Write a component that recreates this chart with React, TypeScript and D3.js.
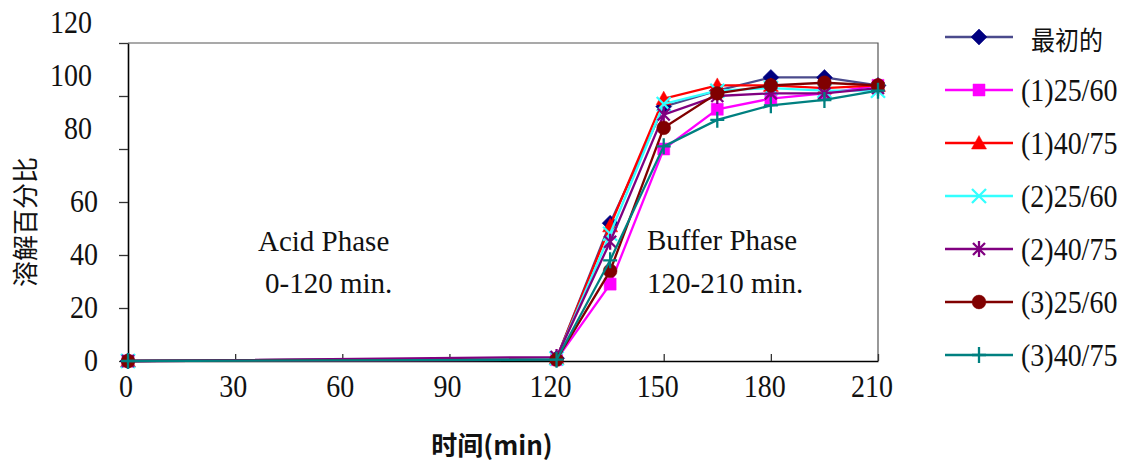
import React, { useEffect, useRef } from "react";
import * as d3 from "d3";

// sampling times (min)
const times = [0, 120, 135, 150, 165, 180, 195, 210];

// dissolution percentages per formulation
const initial = [0, 1, 52, 96, 102, 107, 107, 104];
const f1_2560 = [0, 0.5, 29, 80, 95, 99, 101, 104];
const f1_4075 = [0, 1, 51, 99, 104, 104, 103, 104];
const f2_2560 = [0, 1, 48, 97, 102, 103, 102, 102];
const f2_4075 = [0, 1.5, 45, 93, 100, 101, 101, 103];
const f3_2560 = [0, 0.5, 34, 88, 101, 104, 105, 104];
const f3_4075 = [0, 0.5, 38, 81, 91, 96.5, 98.5, 102];

const seriesNames = ["最初的", "(1)25/60", "(1)40/75", "(2)25/60", "(2)40/75", "(3)25/60", "(3)40/75"];
const seriesValues = [initial, f1_2560, f1_4075, f2_2560, f2_4075, f3_2560, f3_4075];

const xTicks = [0, 30, 60, 90, 120, 150, 180, 210];
const yTicks = [0, 20, 40, 60, 80, 100, 120];

const styles = [
	{ line: "#4a4a8c", color: "#000080", shape: "diamond" },
	{ line: "#ff00ff", color: "#ff00ff", shape: "square" },
	{ line: "#ff0000", color: "#ff0000", shape: "triangle" },
	{ line: "#33ffff", color: "#33ffff", shape: "x" },
	{ line: "#800080", color: "#800080", shape: "star" },
	{ line: "#800000", color: "#800000", shape: "circle" },
	{ line: "#008080", color: "#008080", shape: "plus" }
];

const markerPath = (shape: string) => {
	switch (shape) {
		case "diamond":
			return "M0,-8L8,0L0,8L-8,0Z";
		case "square":
			return "M-6,-6H6V6H-6Z";
		case "triangle":
			return "M0,-7.5L7.5,6L-7.5,6Z";
		case "x":
			return "M-7,-7L7,7M-7,7L7,-7";
		case "star":
			return "M-6,-6L6,6M-6,6L6,-6M0,-8L0,8";
		case "plus":
			return "M-7,0L7,0M0,-8L0,8";
		default:
			return d3.symbol().type(d3.symbolCircle).size(150)() as string;
	}
};
const filled = (shape: string) => ["diamond", "square", "triangle", "circle"].includes(shape);

const App = () => {
	const ref = useRef<SVGSVGElement>(null);

	useEffect(() => {
		document.body.style.margin = "0";
		const svg = d3.select(ref.current);
		svg.selectAll("*").remove();

		const left = 128, right = 878, top = 43, bottom = 361;

		const x = d3.scaleLinear().domain([0, 210]).range([left, right]);
		const y = d3.scaleLinear().domain([0, 120]).range([bottom, top]);

		svg.append("rect").attr("width", 1135).attr("height", 462).attr("fill", "#fff");

		// frame (top & right)
		svg.append("path")
			.attr("d", `M${left},${top}H${right}V${bottom}`)
			.attr("fill", "none")
			.attr("stroke", "#555")
			.attr("stroke-width", 1.2);

		// y axis
		const yAxis = d3.axisLeft(y).tickValues(yTicks).tickSize(9).tickSizeOuter(0).tickFormat(() => "");
		const gy = svg.append("g").attr("transform", `translate(${left},0)`).call(yAxis);
		gy.select(".domain").attr("stroke", "#000").attr("stroke-width", 1.6);
		gy.selectAll(".tick line").attr("stroke", "#333").attr("stroke-width", 1.3);

		// labels for 80 and above sit higher in the original
		svg.append("g")
			.selectAll("text")
			.data(yTicks)
			.enter()
			.append("text")
			.attr("transform", (d) => `translate(${d >= 80 ? 92 : 98},${y(d) + 10 - (d >= 80 ? 20 : 0)}) scale(1,1.12)`)
			.attr("text-anchor", "end")
			.attr("font-family", "'Liberation Serif', serif")
			.attr("font-size", 28)
			.attr("fill", "#111")
			.text((d) => d);

		// x axis
		const xAxis = d3.axisTop(x).tickValues(xTicks).tickSize(7).tickSizeOuter(0).tickFormat(() => "");
		const gx = svg.append("g").attr("transform", `translate(0,${bottom})`).call(xAxis);
		gx.select(".domain").attr("stroke", "#000").attr("stroke-width", 1.6);
		gx.selectAll(".tick line").attr("stroke", "#333").attr("stroke-width", 1.3);

		svg.append("g")
			.selectAll("text")
			.data(xTicks)
			.enter()
			.append("text")
			.attr("transform", (d) => `translate(${x(d) - (d >= 100 ? 6 : 2)},397) scale(1,1.12)`)
			.attr("text-anchor", "middle")
			.attr("font-family", "'Liberation Serif', serif")
			.attr("font-size", 28)
			.attr("fill", "#111")
			.text((d) => d);

		// axis titles
		svg.append("text")
			.attr("x", 492)
			.attr("y", 455)
			.attr("text-anchor", "middle")
			.attr("font-family", "'Noto Sans CJK SC', sans-serif")
			.attr("font-weight", "bold")
			.attr("font-size", 26)
			.attr("fill", "#111")
			.text("时间(min)");

		svg.append("text")
			.attr("transform", "translate(35,222) rotate(-90)")
			.attr("text-anchor", "middle")
			.attr("font-family", "'Noto Sans CJK SC', sans-serif")
			.attr("font-size", 26)
			.attr("fill", "#111")
			.text("溶解百分比");

		// phase annotations
		const notes = [
			{ t: "Acid Phase", x: 258, y: 251 },
			{ t: "0-120 min.", x: 265, y: 293 },
			{ t: "Buffer Phase", x: 647, y: 250 },
			{ t: "120-210 min.", x: 647, y: 293 }
		];
		svg.append("g")
			.selectAll("text")
			.data(notes)
			.enter()
			.append("text")
			.attr("x", (d) => d.x)
			.attr("y", (d) => d.y)
			.attr("font-family", "'Liberation Serif', serif")
			.attr("font-size", 29)
			.attr("fill", "#111")
			.text((d) => d.t);

		// series
		const line = d3.line<number>()
			.x((d, i) => x(times[i]))
			.y((d) => y(d));

		seriesValues.forEach((vals, si) => {
			const st = styles[si];
			const g = svg.append("g");
			g.append("path")
				.attr("d", line(vals))
				.attr("fill", "none")
				.attr("stroke", st.line)
				.attr("stroke-width", 2.3);
			g.selectAll("path.m")
				.data(vals)
				.enter()
				.append("path")
				.attr("class", "m")
				.attr("transform", (d, i) => `translate(${x(times[i])},${y(d)})`)
				.attr("d", markerPath(st.shape))
				.attr("fill", filled(st.shape) ? st.color : "none")
				.attr("stroke", st.color)
				.attr("stroke-width", filled(st.shape) ? 0.5 : 2.3);
		});

		// legend
		const lg = svg.append("g");
		seriesNames.forEach((name, i) => {
			const st = styles[i];
			const ly = 37 + i * 53;
			lg.append("line")
				.attr("x1", 945)
				.attr("x2", 1013)
				.attr("y1", ly)
				.attr("y2", ly)
				.attr("stroke", st.line)
				.attr("stroke-width", 2.5);
			lg.append("path")
				.attr("transform", `translate(979,${ly})`)
				.attr("d", markerPath(st.shape))
				.attr("fill", filled(st.shape) ? st.color : "none")
				.attr("stroke", st.color)
				.attr("stroke-width", filled(st.shape) ? 0.5 : 2.3);
			const isCJK = i === 0;
			lg.append("text")
				.attr("transform", `translate(${isCJK ? 1031 : 1021},${ly + (isCJK ? 13 : 11)}) scale(1,1.1)`)
				.attr("font-family", isCJK ? "'Noto Sans CJK SC', sans-serif" : "'Liberation Serif', serif")
				.attr("font-size", isCJK ? 24 : 28)
				.attr("fill", "#111")
				.text(name);
		});
	}, []);

	return (
		<div>
			<svg ref={ref} width={1135} height={462} style={{ display: "block" }}></svg>
		</div>
	);
};

export default App;
